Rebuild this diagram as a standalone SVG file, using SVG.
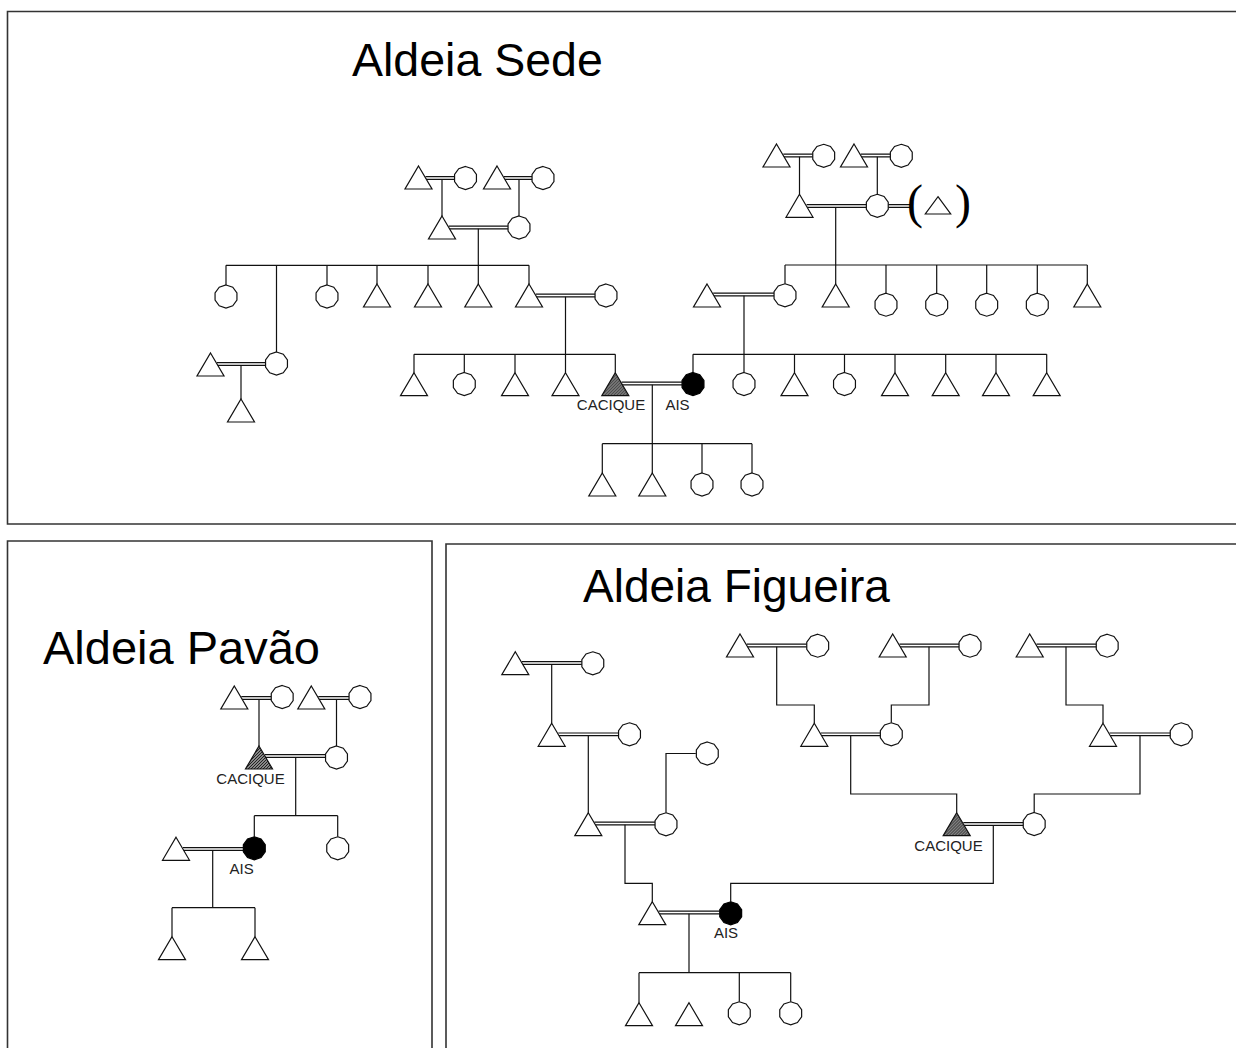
<svg xmlns="http://www.w3.org/2000/svg" width="1236" height="1048" viewBox="0 0 1236 1048">
<style>
.frame{fill:none;stroke:#333;stroke-width:1.6}
.ln{fill:none;stroke:#111;stroke-width:1.2}
.nd{fill:#fff;stroke:#111;stroke-width:1.2}
.ais{fill:#000;stroke:#000;stroke-width:1.2}
.cq{fill:url(#hatch);stroke:#111;stroke-width:1.2}
.title{font-family:"Liberation Sans",Arial,sans-serif;fill:#000}
.lbl{font-family:"Liberation Sans",Arial,sans-serif;font-size:15px;fill:#222;text-anchor:middle}
.par{font-family:"Liberation Serif","Times New Roman",serif;font-size:48px;fill:#000}
</style>
<defs>
<path id="tri" d="M0,0 L13.5,23 L-13.5,23 Z"/>
<path id="cir" d="M0,-11.5 L6.76,-9.3 L10.94,-3.55 L10.94,3.55 L6.76,9.3 L0,11.5 L-6.76,9.3 L-10.94,3.55 L-10.94,-3.55 L-6.76,-9.3 Z"/>
<pattern id="hatch" patternUnits="userSpaceOnUse" width="3" height="3">
<rect width="3" height="3" fill="#888"/>
<path d="M-1,1 L1,-1 M0,3 L3,0 M2,4 L4,2" stroke="#222" stroke-width="1"/>
</pattern>
</defs>
<rect width="1236" height="1048" fill="#fff"/>

<g id="frames">
<path class="frame" d="M1236,11.5 H7.5 V524 H1236"/>
<path class="frame" d="M7.5,1048 V541 H432 V1048"/>
<path class="frame" d="M446,1048 V544 H1236"/>
</g>

<g id="titles">
<text class="title" x="352" y="76" font-size="46.5">Aldeia Sede</text>
<text class="title" x="43" y="664" font-size="47">Aldeia Pavão</text>
<text class="title" x="583" y="602" font-size="46">Aldeia Figueira</text>
</g>

<g id="connectors">
<!-- marriages (double lines) -->
<path class="ln" d="M425.5,176.7 H454.6 M425.5,179.3 H454.6"/>
<path class="ln" d="M504,176.7 H532.1 M504,179.3 H532.1"/>
<path class="ln" d="M448.8,226.2 H508.1 M448.8,228.8 H508.1"/>
<path class="ln" d="M217,362.7 H265.6 M217,365.3 H265.6"/>
<path class="ln" d="M535.8,294.2 H595.1 M535.8,296.8 H595.1"/>
<path class="ln" d="M621.6,382.2 H682.1 M621.6,384.8 H682.1"/>
<path class="ln" d="M783.3,154.2 H812.8 M783.3,156.8 H812.8"/>
<path class="ln" d="M860.8,154.2 H890.4 M860.8,156.8 H890.4"/>
<path class="ln" d="M806.6,204.7 H866.4 M806.6,207.3 H866.4"/>
<path class="ln" d="M888.2,204.7 H910 M888.2,207.3 H910"/>
<path class="ln" d="M713.2,293.2 H774.1 M713.2,295.8 H774.1"/>
<path class="ln" d="M241.3,696.7 H271.3 M241.3,699.3 H271.3"/>
<path class="ln" d="M318.3,696.7 H349.1 M318.3,699.3 H349.1"/>
<path class="ln" d="M264.9,754.7 H325.3 M264.9,757.3 H325.3"/>
<path class="ln" d="M182.9,847.7 H243.4 M182.9,850.3 H243.4"/>
<path class="ln" d="M521.9,661.7 H581.9 M521.9,664.3 H581.9"/>
<path class="ln" d="M558.3,733 H618.6 M558.3,735.6 H618.6"/>
<path class="ln" d="M594.4,822.2 H655.3 M594.4,824.8 H655.3"/>
<path class="ln" d="M658.6,911.2 H719.8 M658.6,913.8 H719.8"/>
<path class="ln" d="M746.8,644.2 H806.8 M746.8,646.8 H806.8"/>
<path class="ln" d="M899.5,644.2 H959.1 M899.5,646.8 H959.1"/>
<path class="ln" d="M1036.5,644.2 H1096.3 M1036.5,646.8 H1096.3"/>
<path class="ln" d="M820.8,733 H880.4 M820.8,735.6 H880.4"/>
<path class="ln" d="M1109.5,733 H1170.3 M1109.5,735.6 H1170.3"/>
<path class="ln" d="M963.3,822.7 H1023.3 M963.3,825.3 H1023.3"/>

<!-- descent / sibling lines: Aldeia Sede -->
<path class="ln" d="M442,179.3 V216 M519,179.3 V216"/>
<path class="ln" d="M478.3,228.8 V284 M226,265.3 H529 M226,265.3 V285 M276.5,265.3 V352 M327,265.3 V285 M377,265.3 V284 M428,265.3 V284 M529,265.3 V284"/>
<path class="ln" d="M241,365.3 V399"/>
<path class="ln" d="M565.5,296.8 V372.7 M414,354.3 H615.3 M414,354.3 V372.7 M464.3,354.3 V372.5 M515,354.3 V372.7 M615.3,354.3 V372.7"/>
<path class="ln" d="M652.3,384.8 V473 M602.3,443.7 H752 M602.3,443.7 V473 M702,443.7 V473 M752,443.7 V473"/>
<path class="ln" d="M799.5,156.8 V194.3 M877.3,156.8 V194.3"/>
<path class="ln" d="M835.7,207.3 V284 M785,265 H1087.3 M785,265 V283.8 M886,265 V293.2 M936.7,265 V293.2 M986.7,265 V293.2 M1037.3,265 V293.2 M1087.3,265 V284"/>
<path class="ln" d="M744,295.8 V372.5 M693,354.3 H1046.7 M693,354.3 V372.5 M794.5,354.3 V372.7 M844.5,354.3 V372.5 M895,354.3 V372.7 M945.7,354.3 V372.7 M996,354.3 V372.7 M1046.7,354.3 V372.7"/>

<!-- Aldeia Pavão -->
<path class="ln" d="M259,699.3 V746 M336.5,699.3 V746"/>
<path class="ln" d="M295.7,757.3 V815.7 M254.3,815.7 H337.7 M254.3,815.7 V836.8 M337.7,815.7 V836.8"/>
<path class="ln" d="M212.7,850.3 V907.7 M172,907.7 H255 M172,907.7 V936.7 M255,907.7 V936.7"/>

<!-- Aldeia Figueira -->
<path class="ln" d="M551.7,664.3 V723.3"/>
<path class="ln" d="M588.3,735.6 V812.7"/>
<path class="ln" d="M625,824.8 V883.3 H652.3 V901.7"/>
<path class="ln" d="M695.8,753.5 H666 V812.8"/>
<path class="ln" d="M689,913.8 V972.7 M639,972.7 H790.7 M639,972.7 V1002.7 M739.3,972.7 V1001.8 M790.7,972.7 V1001.8"/>
<path class="ln" d="M730.7,901.8 V883.3 H993.3 V825.3"/>
<path class="ln" d="M776.7,646.8 V705 H814.3 V723.3"/>
<path class="ln" d="M929,646.8 V705 H891.3 V722.8"/>
<path class="ln" d="M850.7,735.6 V794 H956.7 V812.7"/>
<path class="ln" d="M1066,646.8 V705 H1103 V723.3"/>
<path class="ln" d="M1140,735.6 V794 H1034.2 V812.5"/>
</g>

<!-- Aldeia Sede nodes -->
<g id="s1"><use href="#tri" class="nd" x="418.5" y="166"/></g>
<g id="s2"><use href="#cir" class="nd" x="465.5" y="178"/></g>
<g id="s3"><use href="#tri" class="nd" x="497" y="166"/></g>
<g id="s4"><use href="#cir" class="nd" x="543" y="178"/></g>
<g id="s5"><use href="#tri" class="nd" x="442" y="216"/></g>
<g id="s6"><use href="#cir" class="nd" x="519" y="227.5"/></g>
<g id="s7"><use href="#cir" class="nd" x="226" y="296.5"/></g>
<g id="s8"><use href="#cir" class="nd" x="276.5" y="363.5"/></g>
<g id="s9"><use href="#cir" class="nd" x="327" y="296.5"/></g>
<g id="s10"><use href="#tri" class="nd" x="377" y="284"/></g>
<g id="s11"><use href="#tri" class="nd" x="428" y="284"/></g>
<g id="s12"><use href="#tri" class="nd" x="478.3" y="284"/></g>
<g id="s13"><use href="#tri" class="nd" x="529" y="284"/></g>
<g id="s14"><use href="#cir" class="nd" x="606" y="295.5"/></g>
<g id="s15"><use href="#tri" class="nd" x="210.5" y="353"/></g>
<g id="s16"><use href="#tri" class="nd" x="241" y="399"/></g>
<g id="s17"><use href="#tri" class="nd" x="414" y="372.7"/></g>
<g id="s18"><use href="#cir" class="nd" x="464.3" y="384"/></g>
<g id="s19"><use href="#tri" class="nd" x="515" y="372.7"/></g>
<g id="s20"><use href="#tri" class="nd" x="565.5" y="372.7"/></g>
<g id="s21"><use href="#tri" class="cq" x="615.3" y="372.7"/><text class="lbl" x="611" y="409.5">CACIQUE</text></g>
<g id="s22"><use href="#cir" class="ais" x="693" y="384"/><text class="lbl" x="677.5" y="409.5">AIS</text></g>
<g id="s23"><use href="#tri" class="nd" x="602.3" y="473"/></g>
<g id="s24"><use href="#tri" class="nd" x="652.3" y="473"/></g>
<g id="s25"><use href="#cir" class="nd" x="702" y="484.5"/></g>
<g id="s26"><use href="#cir" class="nd" x="752" y="484.5"/></g>
<g id="s27"><use href="#tri" class="nd" x="776.5" y="144"/></g>
<g id="s28"><use href="#cir" class="nd" x="823.7" y="155.8"/></g>
<g id="s29"><use href="#tri" class="nd" x="854" y="144"/></g>
<g id="s30"><use href="#cir" class="nd" x="901.3" y="155.8"/></g>
<g id="s31"><use href="#tri" class="nd" x="799.5" y="194.3"/></g>
<g id="s32"><use href="#cir" class="nd" x="877.3" y="205.8"/></g>
<g id="s33"><text class="par" x="907" y="218">(</text><path class="nd" d="M938,196.7 L950.7,214 L925.3,214 Z"/><text class="par" x="955" y="218">)</text></g>
<g id="s34"><use href="#tri" class="nd" x="707" y="284"/></g>
<g id="s35"><use href="#cir" class="nd" x="785" y="295.3"/></g>
<g id="s36"><use href="#tri" class="nd" x="835.7" y="284"/></g>
<g id="s37"><use href="#cir" class="nd" x="886" y="304.7"/></g>
<g id="s38"><use href="#cir" class="nd" x="936.7" y="304.7"/></g>
<g id="s39"><use href="#cir" class="nd" x="986.7" y="304.7"/></g>
<g id="s40"><use href="#cir" class="nd" x="1037.3" y="304.7"/></g>
<g id="s41"><use href="#tri" class="nd" x="1087.3" y="284"/></g>
<g id="s42"><use href="#cir" class="nd" x="744" y="384"/></g>
<g id="s43"><use href="#tri" class="nd" x="794.5" y="372.7"/></g>
<g id="s44"><use href="#cir" class="nd" x="844.5" y="384"/></g>
<g id="s45"><use href="#tri" class="nd" x="895" y="372.7"/></g>
<g id="s46"><use href="#tri" class="nd" x="945.7" y="372.7"/></g>
<g id="s47"><use href="#tri" class="nd" x="996" y="372.7"/></g>
<g id="s48"><use href="#tri" class="nd" x="1046.7" y="372.7"/></g>

<!-- Aldeia Pavão nodes -->
<g id="p1"><use href="#tri" class="nd" x="234.3" y="686"/></g>
<g id="p2"><use href="#cir" class="nd" x="282.2" y="697"/></g>
<g id="p3"><use href="#tri" class="nd" x="311.3" y="686"/></g>
<g id="p4"><use href="#cir" class="nd" x="360" y="697"/></g>
<g id="p5"><use href="#tri" class="cq" x="259" y="746"/><text class="lbl" x="250.5" y="784">CACIQUE</text></g>
<g id="p6"><use href="#cir" class="nd" x="336.5" y="757.5"/></g>
<g id="p7"><use href="#cir" class="ais" x="254.3" y="848.3"/><text class="lbl" x="241.7" y="874">AIS</text></g>
<g id="p8"><use href="#cir" class="nd" x="337.7" y="848.3"/></g>
<g id="p9"><use href="#tri" class="nd" x="176" y="837.3"/></g>
<g id="p10"><use href="#tri" class="nd" x="172" y="936.7"/></g>
<g id="p11"><use href="#tri" class="nd" x="255" y="936.7"/></g>

<!-- Aldeia Figueira nodes -->
<g id="f1"><use href="#tri" class="nd" x="515.3" y="651.7"/></g>
<g id="f2"><use href="#cir" class="nd" x="592.8" y="663.3"/></g>
<g id="f3"><use href="#tri" class="nd" x="551.7" y="723.3"/></g>
<g id="f4"><use href="#cir" class="nd" x="629.5" y="734.3"/></g>
<g id="f5"><use href="#tri" class="nd" x="588.3" y="812.7"/></g>
<g id="f6"><use href="#cir" class="nd" x="666" y="824.3"/></g>
<g id="f7"><use href="#cir" class="nd" x="707.3" y="753.5"/></g>
<g id="f8"><use href="#tri" class="nd" x="652.3" y="901.7"/></g>
<g id="f9"><use href="#cir" class="ais" x="730.7" y="913.3"/><text class="lbl" x="726" y="937.7">AIS</text></g>
<g id="f10"><use href="#tri" class="nd" x="639" y="1002.7"/></g>
<g id="f11"><use href="#tri" class="nd" x="689" y="1002.7"/></g>
<g id="f12"><use href="#cir" class="nd" x="739.3" y="1013.3"/></g>
<g id="f13"><use href="#cir" class="nd" x="790.7" y="1013.3"/></g>
<g id="f14"><use href="#tri" class="nd" x="740" y="634"/></g>
<g id="f15"><use href="#cir" class="nd" x="817.7" y="645.7"/></g>
<g id="f16"><use href="#tri" class="nd" x="892.7" y="634"/></g>
<g id="f17"><use href="#cir" class="nd" x="970" y="645.7"/></g>
<g id="f18"><use href="#tri" class="nd" x="814.3" y="723.3"/></g>
<g id="f19"><use href="#cir" class="nd" x="891.3" y="734.3"/></g>
<g id="f20"><use href="#tri" class="nd" x="1029.7" y="634"/></g>
<g id="f21"><use href="#cir" class="nd" x="1107.2" y="645.7"/></g>
<g id="f22"><use href="#tri" class="nd" x="1103" y="723.3"/></g>
<g id="f23"><use href="#cir" class="nd" x="1181.2" y="734.3"/></g>
<g id="f24"><use href="#tri" class="cq" x="956.7" y="812.7"/><text class="lbl" x="948.5" y="851">CACIQUE</text></g>
<g id="f25"><use href="#cir" class="nd" x="1034.2" y="824"/></g>
</svg>
